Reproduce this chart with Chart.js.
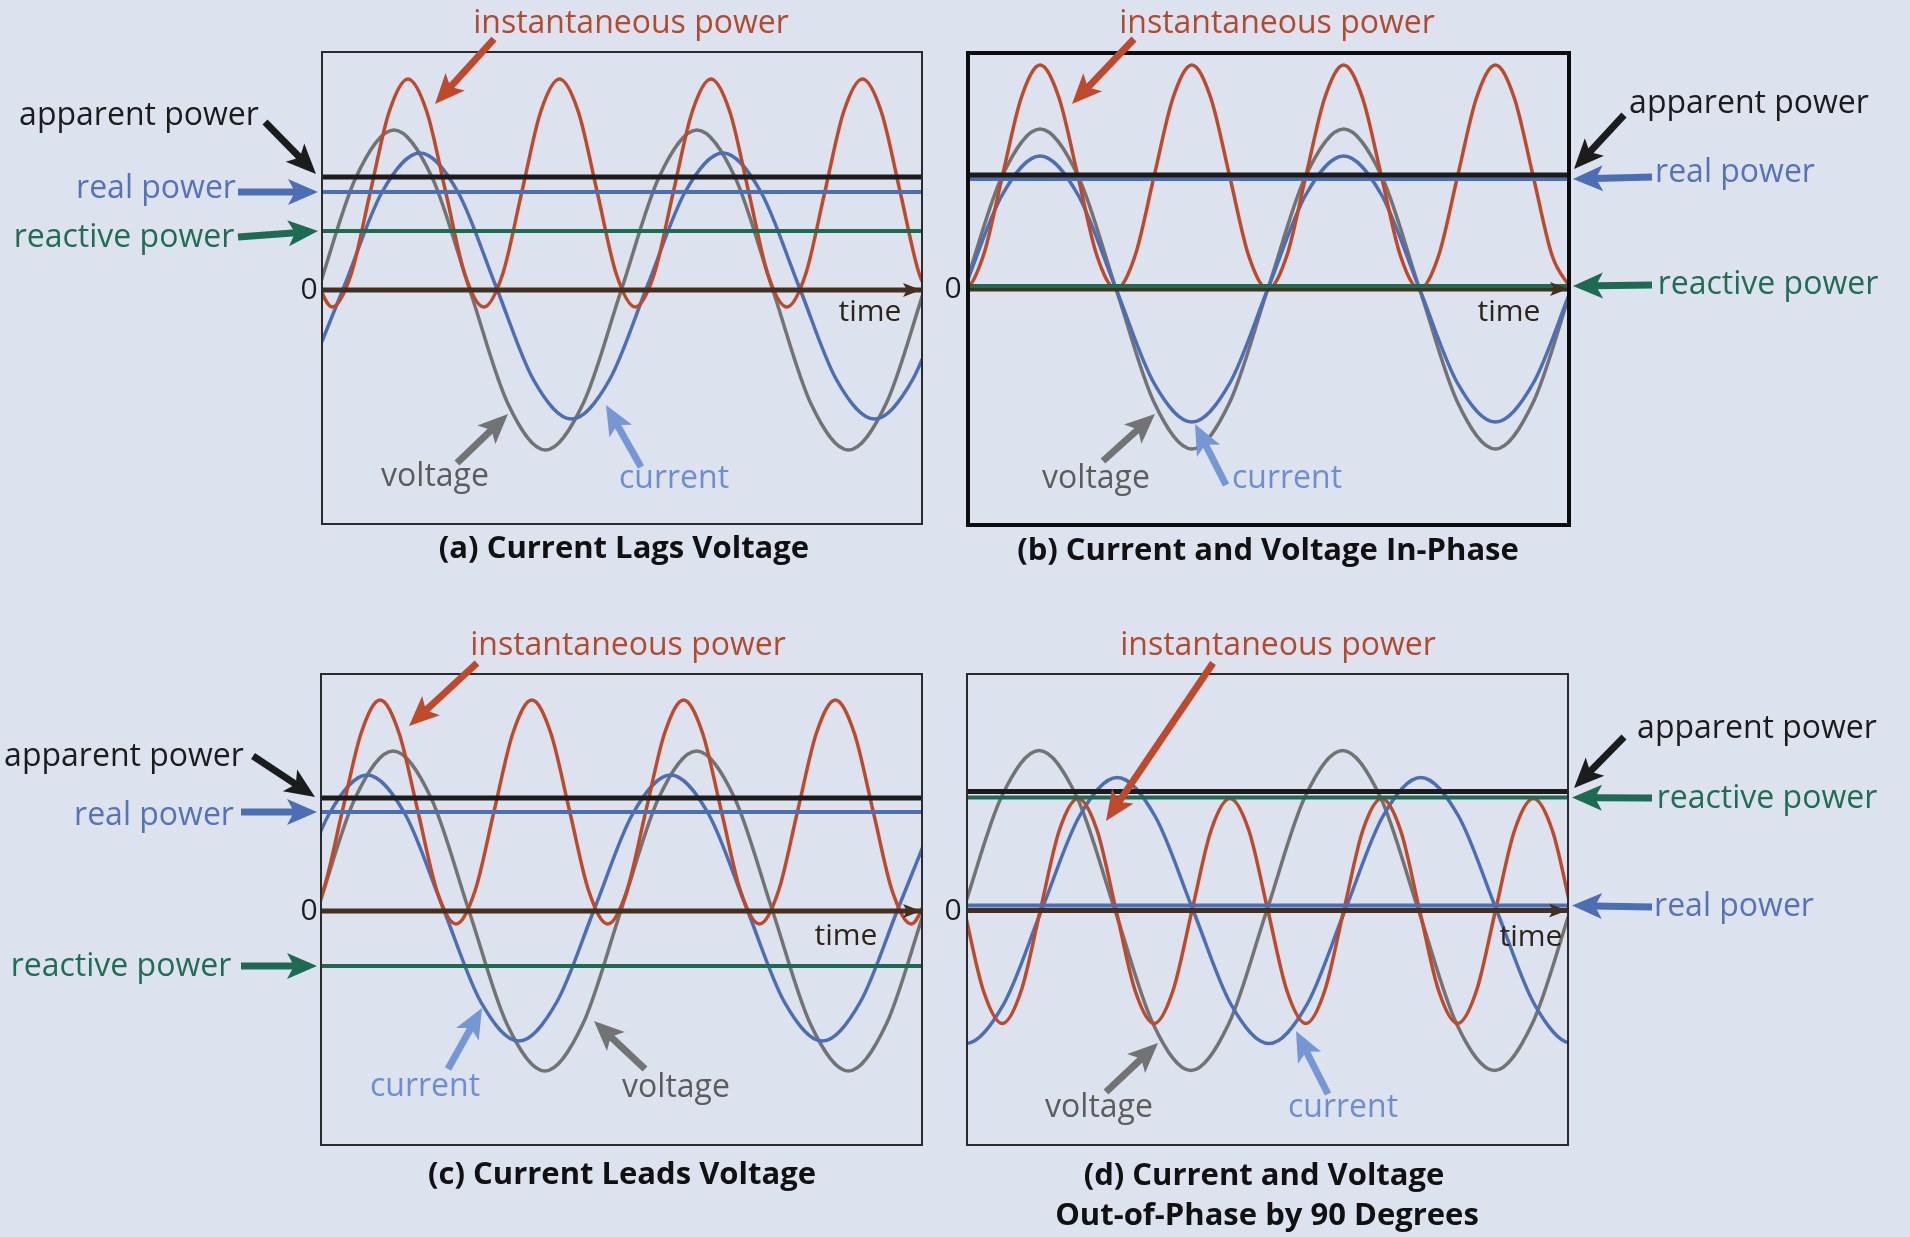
<!DOCTYPE html>
<html>
<head>
<meta charset="utf-8">
<script src="https://cdn.jsdelivr.net/npm/chart.js@4.4.1/dist/chart.umd.min.js"></script>
<style>
  body { margin: 0; background: #dde2ef; width: 1910px; height: 1237px; position: relative; overflow: hidden; }
  canvas { position: absolute; }
  .lbl { position: absolute; white-space: nowrap; font-family: "Open Sans", "Noto Sans", sans-serif; transform: translateX(-50%); }
</style>
</head>
<body>
<canvas id="pa" width="945" height="600" style="left:0px;top:0px"></canvas>
<canvas id="pb" width="965" height="600" style="left:945px;top:0px"></canvas>
<canvas id="pc" width="945" height="637" style="left:0px;top:600px"></canvas>
<canvas id="pd" width="965" height="637" style="left:945px;top:600px"></canvas>
<script>
// time axis of every panel (box left to box right)
const timeRange = [0, 600];

// voltage, same in all four panels
const voltX = [-41.6, -3.8, 34.1, 72, 109.9, 147.8, 185.6, 223.5, 261.4, 299.3, 337.1, 375, 412.9, 450.8, 488.6, 526.5, 564.4, 602.3, 640.1];
const voltY = [-1.13, 0, 1.13, 1.60, 1.13, 0, -1.13, -1.60, -1.13, 0, 1.13, 1.60, 1.13, 0, -1.13, -1.60, -1.13, 0, 1.13];

// (a) current lags voltage
const currXa = [-15.6, 22.3, 60.1, 98, 135.9, 173.8, 211.6, 249.5, 287.4, 325.3, 363.1, 401, 438.9, 476.8, 514.6, 552.5, 590.4, 628.3];
const currYa = [-0.90, 0.04, 0.98, 1.37, 0.98, 0.04, -0.90, -1.29, -0.90, 0.04, 0.98, 1.37, 0.98, 0.04, -0.90, -1.29, -0.90, 0.04];
const powXa = [-8.7, 10.3, 29.2, 48.1, 67.1, 86, 104.9, 123.9, 142.8, 161.8, 180.7, 199.6, 218.6, 237.5, 256.4, 275.4, 294.3,
  313.3, 332.2, 351.1, 370.1, 389, 407.9, 426.9, 445.8, 464.8, 483.7, 502.6, 521.6, 540.5, 559.4, 578.4, 597.3, 616.3];
const powYa = [0.16, -0.17, 0.16, 0.97, 1.78, 2.11, 1.78, 0.97, 0.16, -0.17, 0.16, 0.97, 1.78, 2.11, 1.78, 0.97, 0.16,
  -0.17, 0.16, 0.97, 1.78, 2.11, 1.78, 0.97, 0.16, -0.17, 0.16, 0.97, 1.78, 2.11, 1.78, 0.97, 0.16, -0.17];

// (b) in phase
const currYb = [-0.94, 0, 0.94, 1.33, 0.94, 0, -0.94, -1.33, -0.94, 0, 0.94, 1.33, 0.94, 0, -0.94, -1.33, -0.94, 0, 0.94];
const powXb = [-22.7, -3.8, 15.2, 34.1, 53.1, 72, 90.9, 109.9, 128.8, 147.8, 166.7, 185.6, 204.6, 223.5, 242.4, 261.4, 280.3,
  299.3, 318.2, 337.1, 356.1, 375, 393.9, 412.9, 431.8, 450.8, 469.7, 488.6, 507.6, 526.5, 545.4, 564.4, 583.3, 602.3];
const powYb = [0.33, 0, 0.33, 1.12, 1.91, 2.24, 1.91, 1.12, 0.33, 0, 0.33, 1.12, 1.91, 2.24, 1.91, 1.12, 0.33,
  0, 0.33, 1.12, 1.91, 2.24, 1.91, 1.12, 0.33, 0, 0.33, 1.12, 1.91, 2.24, 1.91, 1.12, 0.33, 0];

// (c) current leads voltage
const currXc = [-67.6, -29.8, 8.1, 46, 83.9, 121.8, 159.6, 197.5, 235.4, 273.3, 311.1, 349, 386.9, 424.8, 462.6, 500.5, 538.4, 576.3, 614.1];
const currYc = [-0.91, 0.03, 0.97, 1.36, 0.97, 0.03, -0.91, -1.30, -0.91, 0.03, 0.97, 1.36, 0.97, 0.03, -0.91, -1.30, -0.91, 0.03, 0.97];
const powXc = [-35.7, -16.8, 2.1, 21.1, 40.1, 59, 77.9, 96.9, 115.8, 134.8, 153.7, 172.6, 191.6, 210.5, 229.4, 248.4, 267.3, 286.3,
  305.2, 324.1, 343.1, 362, 380.9, 399.9, 418.8, 437.8, 456.7, 475.6, 494.6, 513.5, 532.4, 551.4, 570.3, 589.3, 608.2];
const powYc = [0.20, -0.13, 0.20, 0.99, 1.78, 2.11, 1.78, 0.99, 0.20, -0.13, 0.20, 0.99, 1.78, 2.11, 1.78, 0.99, 0.20, -0.13,
  0.20, 0.99, 1.78, 2.11, 1.78, 0.99, 0.20, -0.13, 0.20, 0.99, 1.78, 2.11, 1.78, 0.99, 0.20, -0.13, 0.20];

// (d) 90 degrees out of phase
const currXd = [-39.4, -1.5, 36.4, 74.3, 112.1, 150, 187.9, 225.8, 263.6, 301.5, 339.4, 377.3, 415.1, 453, 490.9, 528.8, 566.6, 604.5, 642.4];
const currYd = [-0.94, -1.33, -0.94, 0, 0.94, 1.33, 0.94, 0, -0.94, -1.33, -0.94, 0, 0.94, 1.33, 0.94, 0, -0.94, -1.33, -0.94];
const powXd = [-21.6, -2.6, 16.3, 35.2, 54.2, 73.1, 92.1, 111, 129.9, 148.9, 167.8, 186.8, 205.7, 224.6, 243.6, 262.5, 281.4,
  300.4, 319.3, 338.3, 357.2, 376.1, 395.1, 414, 432.9, 451.9, 470.8, 489.8, 508.7, 527.6, 546.6, 565.5, 584.4, 603.4];
const powYd = [0.80, 0, -0.80, -1.13, -0.80, 0, 0.80, 1.12, 0.80, 0, -0.80, -1.13, -0.80, 0, 0.80, 1.12, 0.80,
  0, -0.80, -1.13, -0.80, 0, 0.80, 1.12, 0.80, 0, -0.80, -1.13, -0.80, 0, 0.80, 1.12, 0.80, 0];

// flat power levels, panels a b c d
const apparentPower = [1.13, 1.14, 1.13, 1.19];
const realPower = [0.98, 1.10, 0.99, 0.05];
const reactivePower = [0.59, 0.03, -0.55, 1.13];

const C = {
  red: '#bf4a2b', redTxt: '#b5492e', black: '#1c1c1c', blue: '#4b6eb5', blueTxt: '#5673b7',
  green: '#1d6b50', greenTxt: '#1f6d53', gray: '#737373', grayTxt: '#5c5c5c', light: '#7697d6',
  lightTxt: '#6d8ecf', axis: '#44301d', timeTxt: '#2e2418'
};

const panels = [
  { id: 'pa', left: 0, top: 0, w: 945, h: 600, box: [322, 52, 922, 524], yMin: -2.34, yMax: 2.38, frame: 2,
    currX: currXa, currY: currYa, powX: powXa, powY: powYa,
    arrows: [
      { from: [494, 39], to: [435, 104], c: C.red },
      { from: [265, 122], to: [316, 174], c: C.black },
      { from: [238, 192], line: 'real', side: 'left', c: C.blue },
      { from: [238, 237], line: 'reactive', side: 'left', c: C.green },
      { from: [457, 463], to: [508, 414], c: C.gray },
      { from: [641, 467], to: [606, 405], c: C.light }
    ] },
  { id: 'pb', left: 945, top: 0, w: 965, h: 600, box: [968, 53, 1569, 525], yMin: -2.36, yMax: 2.36, frame: 4,
    currX: voltX, currY: currYb, powX: powXb, powY: powYb,
    arrows: [
      { from: [1134, 39], to: [1072, 104], c: C.red },
      { from: [1624, 115], to: [1574, 169], c: C.black },
      { from: [1652, 177], line: 'real', side: 'right', c: C.blue },
      { from: [1652, 285], line: 'reactive', side: 'right', c: C.green },
      { from: [1103, 461], to: [1155, 414], c: C.gray },
      { from: [1226, 485], to: [1195, 424], c: C.light }
    ] },
  { id: 'pc', left: 0, top: 600, w: 945, h: 637, box: [321, 674, 922, 1145], yMin: -2.34, yMax: 2.37, frame: 2,
    currX: currXc, currY: currYc, powX: powXc, powY: powYc,
    arrows: [
      { from: [477, 663], to: [409, 726], c: C.red },
      { from: [253, 756], to: [315, 797], c: C.black },
      { from: [241, 812], line: 'real', side: 'left', c: C.blue },
      { from: [241, 966], line: 'reactive', side: 'left', c: C.green },
      { from: [448, 1069], to: [482, 1008], c: C.light },
      { from: [645, 1069], to: [594, 1021], c: C.gray }
    ] },
  { id: 'pd', left: 945, top: 600, w: 965, h: 637, box: [967, 674, 1568, 1145], yMin: -2.345, yMax: 2.365, frame: 2,
    currX: currXd, currY: currYd, powX: powXd, powY: powYd,
    arrows: [
      { from: [1213, 663], to: [1106, 821], c: C.red },
      { from: [1624, 737], to: [1574, 788], c: C.black },
      { from: [1652, 798], line: 'reactive', side: 'right', c: C.green },
      { from: [1652, 907], line: 'real', side: 'right', c: C.blue },
      { from: [1106, 1092], to: [1158, 1043], c: C.gray },
      { from: [1328, 1094], to: [1296, 1031], c: C.light }
    ] }
];

// text, centre x, baseline y, colour, size, weight
const labels = [
  ['instantaneous power', 631, 33, C.redTxt], ['apparent power', 139, 125, C.black], ['real power', 156, 198, C.blueTxt],
  ['reactive power', 124, 247, C.greenTxt], ['0', 309, 300, C.black, 30], ['time', 870, 322, C.timeTxt, 30],
  ['voltage', 435, 486, C.grayTxt], ['current', 674, 488, C.lightTxt], ['(a) Current Lags Voltage', 624, 559, '#111', 31, 700],

  ['instantaneous power', 1277, 33, C.redTxt], ['apparent power', 1749, 113, C.black], ['real power', 1735, 182, C.blueTxt],
  ['reactive power', 1768, 294, C.greenTxt], ['0', 953, 299, C.black, 30], ['time', 1509, 322, C.timeTxt, 30],
  ['voltage', 1096, 488, C.grayTxt], ['current', 1287, 488, C.lightTxt], ['(b) Current and Voltage In-Phase', 1268, 561, '#111', 31, 700],

  ['instantaneous power', 628, 655, C.redTxt], ['apparent power', 124, 766, C.black], ['real power', 154, 825, C.blueTxt],
  ['reactive power', 121, 976, C.greenTxt], ['0', 309, 921, C.black, 30], ['time', 846, 946, C.timeTxt, 30],
  ['current', 425, 1096, C.lightTxt], ['voltage', 676, 1097, C.grayTxt], ['(c) Current Leads Voltage', 622, 1185, '#111', 31, 700],

  ['instantaneous power', 1278, 655, C.redTxt], ['apparent power', 1757, 738, C.black], ['reactive power', 1767, 808, C.greenTxt],
  ['real power', 1734, 916, C.blueTxt], ['0', 953, 921, C.black, 30], ['time', 1531, 947, C.timeTxt, 30],
  ['voltage', 1099, 1117, C.grayTxt], ['current', 1343, 1117, C.lightTxt],
  ['(d) Current and Voltage', 1264, 1186, '#111', 31, 700], ['Out-of-Phase by 90 Degrees', 1267, 1226, '#111', 31, 700]
];

labels.forEach(([t, x, base, col, fs = 32, fw = 400]) => {
  const d = document.createElement('div');
  d.className = 'lbl';
  d.textContent = t;
  d.style.cssText = `left:${x}px;top:${base - 0.888 * fs}px;font-size:${fs}px;line-height:${fs}px;color:${col};font-weight:${fw}`;
  document.body.appendChild(d);
});

function arrowHead(ctx, tx, ty, ang, len, half, notch, col) {
  const ux = Math.cos(ang), uy = Math.sin(ang), vx = -uy, vy = ux;
  const bx = tx - ux * len, by = ty - uy * len;
  ctx.fillStyle = col;
  ctx.beginPath();
  ctx.moveTo(tx, ty);
  ctx.lineTo(bx + vx * half, by + vy * half);
  ctx.lineTo(tx - ux * (len - notch), ty - uy * (len - notch));
  ctx.lineTo(bx - vx * half, by - vy * half);
  ctx.closePath();
  ctx.fill();
}

function arrow(ctx, x1, y1, x2, y2, col) {
  const ang = Math.atan2(y2 - y1, x2 - x1);
  const len = 30, notch = 7;
  ctx.strokeStyle = col;
  ctx.lineWidth = 7;
  ctx.lineCap = 'butt';
  ctx.beginPath();
  ctx.moveTo(x1, y1);
  ctx.lineTo(x2 - Math.cos(ang) * (len - notch - 1), y2 - Math.sin(ang) * (len - notch - 1));
  ctx.stroke();
  arrowHead(ctx, x2, y2, ang, len, 13, notch, col);
}

const extras = {};

const decor = {
  id: 'decor',
  afterDraw(chart) {
    const p = extras[chart.canvas.id];
    const { ctx, chartArea: a, scales: { y } } = chart;
    ctx.save();
    arrowHead(ctx, a.right - 1, y.getPixelForValue(0), 0, 18, 7, 4, C.axis);
    ctx.lineWidth = p.frame;
    ctx.strokeStyle = p.frame > 2 ? '#0d0d0d' : '#2b2b2b';
    ctx.strokeRect(a.left, a.top, a.right - a.left, a.bottom - a.top);
    p.arrows.forEach(ar => {
      const x1 = ar.from[0] - p.left, y1 = ar.from[1] - p.top;
      let x2, y2;
      if (ar.line) {
        const v = ar.line === 'real' ? realPower[p.idx] : reactivePower[p.idx];
        y2 = y.getPixelForValue(v);
        x2 = ar.side === 'left' ? a.left - 4 : a.right + 4;
      } else {
        x2 = ar.to[0] - p.left;
        y2 = ar.to[1] - p.top;
      }
      arrow(ctx, x1, y1, x2, y2, ar.c);
    });
    ctx.restore();
  }
};

const pts = (xs, ys) => xs.map((x, i) => ({ x, y: ys[i] }));
const flat = v => [{ x: timeRange[0], y: v }, { x: timeRange[1], y: v }];

panels.forEach((p, i) => {
  p.idx = i;
  extras[p.id] = p;
  const ds = (data, color, width) => ({ data, borderColor: color, borderWidth: width, clip: 0, fill: false });
  new Chart(document.getElementById(p.id), {
    type: 'line',
    data: {
      datasets: [
        ds(flat(apparentPower[i]), C.black, 5),
        ds(flat(realPower[i]), C.blue, 4),
        ds(flat(reactivePower[i]), C.green, 4),
        ds(flat(0), C.axis, 5),
        ds(pts(p.powX, p.powY), C.red, 3.5),
        ds(pts(p.currX, p.currY), C.blue, 3.5),
        ds(pts(voltX, voltY), C.gray, 3.5)
      ]
    },
    options: {
      responsive: false,
      animation: false,
      devicePixelRatio: 1,
      layout: { padding: { left: p.box[0] - p.left, top: p.box[1] - p.top, right: p.left + p.w - p.box[2], bottom: p.top + p.h - p.box[3] } },
      scales: {
        x: { type: 'linear', min: timeRange[0], max: timeRange[1], display: false },
        y: { min: p.yMin, max: p.yMax, display: false }
      },
      elements: { point: { radius: 0 }, line: { cubicInterpolationMode: 'monotone' } },
      plugins: { legend: { display: false }, tooltip: { enabled: false } }
    },
    plugins: [decor]
  });
});
</script>
</body>
</html>
